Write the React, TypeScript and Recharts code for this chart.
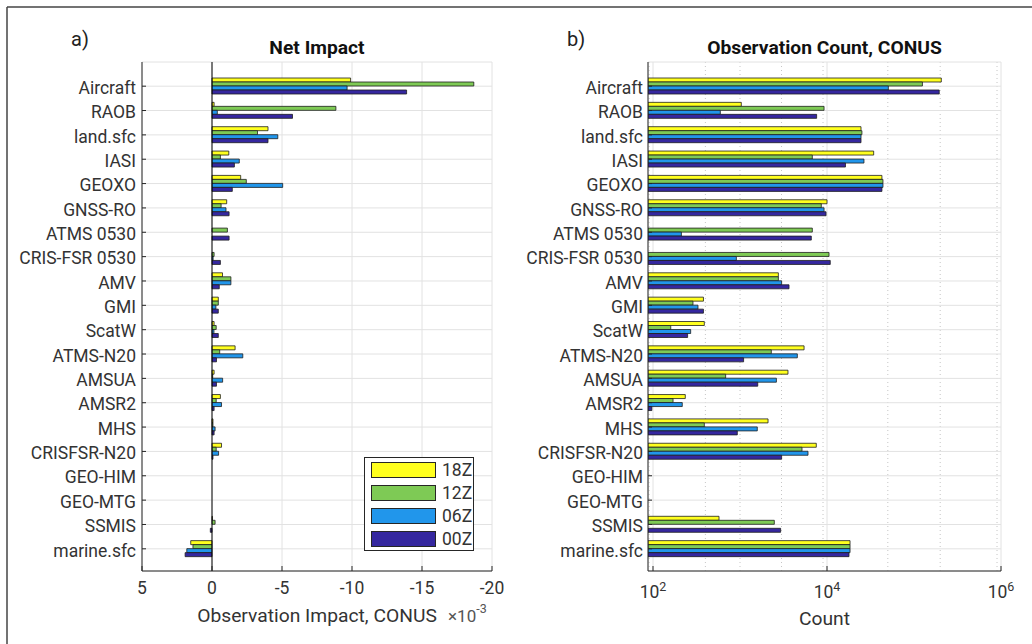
import React from 'react';
import { BarChart, Bar, XAxis, YAxis, CartesianGrid, ReferenceLine, Legend } from 'recharts';

const categories = [
  'Aircraft', 'RAOB', 'land.sfc', 'IASI', 'GEOXO', 'GNSS-RO', 'ATMS 0530', 'CRIS-FSR 0530',
  'AMV', 'GMI', 'ScatW', 'ATMS-N20', 'AMSUA', 'AMSR2', 'MHS', 'CRISFSR-N20',
  'GEO-HIM', 'GEO-MTG', 'SSMIS', 'marine.sfc',
];

const seriesNames = ['18Z', '12Z', '06Z', '00Z'];
const seriesColors = ['#FFFF1E', '#7ECA55', '#2196EB', '#35279F'];

// net observation impact, in units of 1e-3 (negative = beneficial)
const impact18Z = [-9.9, -0.15, -4.0, -1.2, -2.05, -1.05, null, null, -0.75, -0.45, -0.15, -1.65, -0.15, -0.6, -0.07, -0.68, null, null, -0.03, 1.52];
const impact12Z = [-18.7, -8.85, -3.25, -0.6, -2.45, -0.65, -1.1, -0.15, -1.35, -0.45, -0.3, -0.55, -0.05, -0.3, -0.07, -0.3, null, null, -0.22, 1.36];
const impact06Z = [-9.65, -0.38, -4.7, -1.95, -5.05, -1.0, null, -0.08, -1.35, -0.28, -0.14, -2.2, -0.76, -0.68, -0.22, -0.47, null, null, null, 1.8];
const impact00Z = [-13.9, -5.75, -4.0, -1.6, -1.45, -1.22, -1.22, -0.6, -0.52, -0.45, -0.45, -0.32, -0.32, -0.15, -0.15, -0.07, null, null, 0.12, 1.92];

// number of assimilated observations over CONUS
const count18Z = [206000, 1035, 24600, 34400, 42800, 10000, null, null, 2760, 380, 389, 5450, 3560, 235, 2100, 7530, null, null, 574, 18400];
const count12Z = [125000, 9250, 25200, 6780, 44000, 8600, 6780, 10550, 2760, 288, 160, 2290, 684, 170, 389, 5160, null, null, 2480, 18400];
const count06Z = [50700, 594, 24600, 26600, 44000, 9250, 212, 908, 3010, 329, 271, 4560, 2620, 217, 1580, 6050, null, null, null, 18400];
const count00Z = [195000, 7600, 24600, 16300, 42800, 9750, 6600, 10900, 3660, 380, 250, 1100, 1600, 97, 931, 3010, null, null, 2930, 17900];

const impactTicks = [5, 0, -5, -10, -15, -20];
const impactDomain = [-20, 5];
const countTicks = [1e2, 1e4, 1e6];
const countDomain = [87.6, 1e6];

// minor log ticks: 2..9 x each decade, plus the unlabelled decades
const countMinorTicks: number[] = [];
for (let e = 1; e < 6; e++) {
  for (let m = 1; m < 10; m++) {
    const v = m * 10 ** e;
    if (v > countDomain[0] && !countTicks.includes(v)) countMinorTicks.push(v);
  }
}

const toRows = (cols: (number | null)[][]) =>
  categories.map((name, i) => {
    const row: any = { name };
    seriesNames.forEach((s, k) => { row[s] = cols[k][i]; });
    return row;
  });

const impactRows = toRows([impact18Z, impact12Z, impact06Z, impact00Z]);
const countRows = toRows([count18Z, count12Z, count06Z, count00Z]);

const FONT = 'Roboto';
const TEXT = '#333';
const AXIS = '#262626';
const TICK_FS = 17.5;
const LABEL_FS = 19.25;
const catPadding = { top: 12, bottom: 10 };

const PowerTick = ({ x, y, payload }: any) => {
  const exp = Math.round(Math.log10(payload.value));
  return (
    <text x={x} y={y} textAnchor="middle" fill={TEXT} fontSize={TICK_FS} fontFamily={FONT}>
      <tspan>10</tspan>
      <tspan dy={-7} fontSize={12.5}>{exp}</tspan>
    </text>
  );
};

// keep legend entries in series order (18Z first)
const renderLegend = (props: any) => {
  const items = [...(props.payload || [])].sort(
    (a: any, b: any) => seriesNames.indexOf(a.value) - seriesNames.indexOf(b.value),
  );
  return (
    <div style={{ border: `1px solid ${AXIS}`, background: '#fff', width: 108, fontFamily: FONT }}>
      {items.map((entry: any) => (
        <div key={entry.value} style={{ display: 'flex', alignItems: 'center', height: 23 }}>
          <span style={{
            display: 'inline-block', width: 63, height: 14, marginLeft: 6, marginRight: 6,
            background: entry.color, border: `1px solid ${AXIS}`,
          }} />
          <span style={{ fontSize: TICK_FS, color: TEXT }}>{entry.value}</span>
        </div>
      ))}
    </div>
  );
};

const bars = () =>
  seriesNames.map((s, k) => (
    <Bar key={s} dataKey={s} name={s} fill={seriesColors[k]} stroke="#1e1e1e" strokeWidth={0.8}
      barSize={4} isAnimationActive={false} />
  ));

const ImpactChart = () => (
  <BarChart width={516} height={644} data={impactRows} layout="vertical" barGap={0}
    margin={{ top: 62, right: 24, bottom: 0, left: 0 }}>
    <CartesianGrid stroke="#e2e2e2" />
    <XAxis type="number" domain={impactDomain} reversed ticks={impactTicks} allowDataOverflow
      height={73} tickSize={-5} tickMargin={16} stroke={AXIS}
      tick={{ fill: TEXT, fontSize: TICK_FS, fontFamily: FONT }} />
    <XAxis xAxisId="top" orientation="top" type="number" domain={impactDomain} reversed
      ticks={impactTicks} allowDataOverflow height={0} tick={false} tickSize={-5} stroke={AXIS} />
    <YAxis type="category" dataKey="name" width={142} padding={catPadding} tickSize={-4}
      tickMargin={10} stroke={AXIS} interval={0}
      tick={{ fill: TEXT, fontSize: TICK_FS, fontFamily: FONT, dy: 1.5 }} />
    <YAxis yAxisId="right" orientation="right" type="category" dataKey="name" width={0}
      padding={catPadding} tick={false} tickSize={-4} stroke={AXIS} interval={0} />
    <ReferenceLine x={0} stroke="#000" strokeWidth={1} />
    {bars()}
    <Legend layout="vertical" align="center" verticalAlign="middle" content={renderLegend}
      wrapperStyle={{ position: 'absolute', left: 364, top: 457, width: 110 }} />
  </BarChart>
);

const CountChart = () => (
  <BarChart width={516} height={644} data={countRows} layout="vertical" barGap={0}
    margin={{ top: 62, right: 31, bottom: 0, left: 0 }}>
    <CartesianGrid horizontal={false} verticalValues={countMinorTicks} stroke="#b8b8b8"
      strokeWidth={0.8} strokeDasharray="1 3" />
    <CartesianGrid stroke="#e2e2e2" />
    <XAxis xAxisId="minor" type="number" scale="log" domain={countDomain} allowDataOverflow
      ticks={countMinorTicks} height={0} axisLine={false} tick={false} tickSize={-3} stroke={AXIS} />
    <XAxis type="number" scale="log" domain={countDomain} allowDataOverflow ticks={countTicks}
      height={73} tickSize={-5} tickMargin={32} stroke={AXIS} tick={<PowerTick />} />
    <XAxis xAxisId="top" orientation="top" type="number" scale="log" domain={countDomain}
      allowDataOverflow ticks={countTicks} height={0} tick={false} tickSize={-5} stroke={AXIS} />
    <XAxis xAxisId="topMinor" orientation="top" type="number" scale="log" domain={countDomain}
      allowDataOverflow ticks={countMinorTicks} height={0} axisLine={false} tick={false}
      tickSize={-3} stroke={AXIS} />
    <YAxis type="category" dataKey="name" width={132} padding={catPadding} tickSize={-4}
      tickMargin={9} stroke={AXIS} interval={0}
      tick={{ fill: TEXT, fontSize: TICK_FS, fontFamily: FONT, dy: 1.5 }} />
    <YAxis yAxisId="right" orientation="right" type="category" dataKey="name" width={0}
      padding={catPadding} tick={false} tickSize={-4} stroke={AXIS} interval={0} />
    {bars()}
  </BarChart>
);

export default function App() {
  return (
    <div style={{
      position: 'absolute', left: 0, top: 0, width: 1032, height: 644,
      background: '#fff', overflow: 'hidden', fontFamily: FONT,
    }}>
      <div style={{ position: 'absolute', left: 0, top: 0 }}><ImpactChart /></div>
      <div style={{ position: 'absolute', left: 516, top: 0 }}><CountChart /></div>
      <svg width={1032} height={644} style={{ position: 'absolute', left: 0, top: 0, pointerEvents: 'none' }}
        fontFamily={FONT}>
        <line x1={7} y1={7} x2={1032} y2={7} stroke="#444" strokeWidth={1.5} />
        <line x1={7} y1={7} x2={7} y2={644} stroke="#444" strokeWidth={1.5} />
        <text x={71} y={46} fontSize={20} fill="#222">a)</text>
        <text x={567} y={46} fontSize={20} fill="#222">b)</text>
        <text x={317} y={54} fontSize={LABEL_FS} fontWeight="bold" fill="#111" textAnchor="middle">Net Impact</text>
        <text x={824.5} y={54} fontSize={LABEL_FS} fontWeight="bold" fill="#111" textAnchor="middle">
          Observation Count, CONUS
        </text>
        <text x={317} y={621.5} fontSize={LABEL_FS} fill={TEXT} textAnchor="middle">Observation Impact, CONUS</text>
        <text x={448} y={621.5} fontSize={17} fill="#555">
          ×10<tspan dy={-8.5} fontSize={12.5}>-3</tspan>
        </text>
        <text x={824.5} y={625} fontSize={LABEL_FS} fill={TEXT} textAnchor="middle">Count</text>
      </svg>
    </div>
  );
}
